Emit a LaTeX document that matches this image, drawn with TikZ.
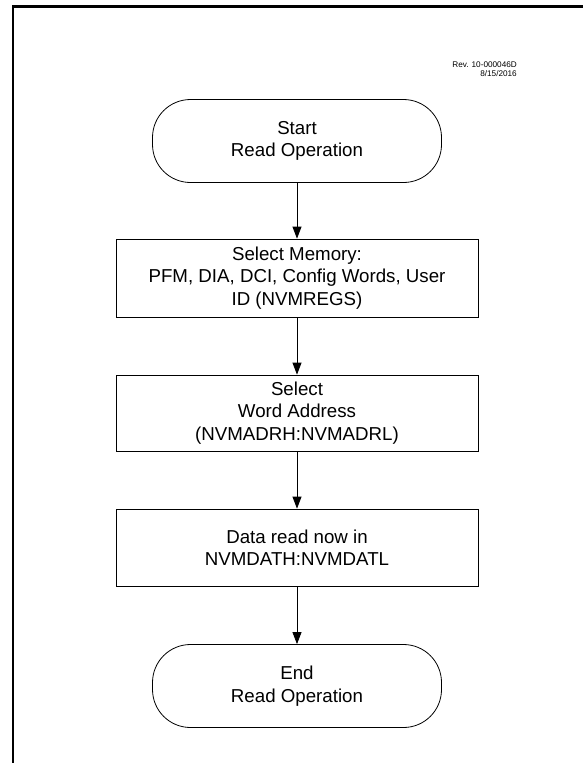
\documentclass[tikz,border=0pt]{standalone}
\usepackage{fontspec}
\setmainfont{Liberation Sans}
\usetikzlibrary{arrows.meta}
\begin{document}
\begin{tikzpicture}[x=1pt,y=-1pt,
  txt/.style={font=\fontsize{18.7}{22.5}\selectfont, align=center, inner sep=0pt},
  term/.style={txt, draw, line width=0.8pt, minimum width=289pt, minimum height=83pt, rounded corners=38pt},
  proc/.style={txt, draw, line width=0.8pt, minimum width=362pt, minimum height=77pt},
  conn/.style={line width=0.8pt, -{Triangle[length=12pt,width=9pt]}},
  frame/.style={line width=2.5pt}]
\useasboundingbox (0,0) rectangle (583,763);
\coordinate (ftl) at (13,6.5);
\coordinate (ftr) at (583,6.5);
\coordinate (fbl) at (13,763);
\draw[frame] (fbl) -- (ftl) -- (ftr);
\node[font=\fontsize{8.2}{9}\selectfont, align=right, inner sep=0pt, anchor=north east] (rev) at (517,62) {Rev. 10-000046D\\8/15/2016};
\node[term] (start) at (297,141) {Start\\Read Operation};
\node[proc, minimum height=78pt] (mem) at (297,278) {Select Memory:\\PFM, DIA, DCI, Config Words, User\\ID (NVMREGS)};
\node[proc, minimum height=76pt] (addr) at (297,413) {Select\\Word Address\\(NVMADRH:NVMADRL)};
\node[proc] (data) at (297,547.5) {Data read now in\\NVMDATH:NVMDATL};
\node[term] (end) at (297,686) {End\\Read Operation};
\draw[conn] (start) -- (mem);
\draw[conn] (mem) -- (addr);
\draw[conn] (addr) -- (data);
\draw[conn] (data) -- (end);
\end{tikzpicture}
\end{document}
